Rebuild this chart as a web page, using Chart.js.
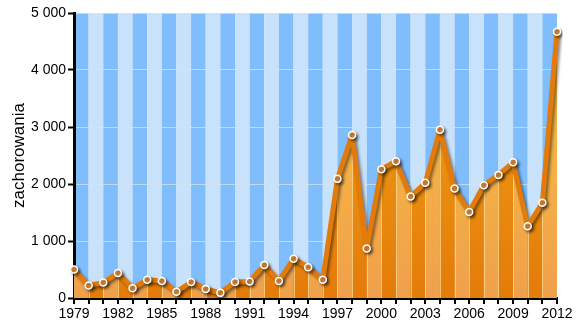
<!DOCTYPE html>
<html>
<head>
<meta charset="utf-8">
<script src="https://cdn.jsdelivr.net/npm/chart.js@4/dist/chart.umd.min.js"></script>
<style>
  body { margin: 0; background: #fff; }
</style>
</head>
<body>
<canvas id="chart" width="581" height="332"></canvas>
<script>
// lata i liczba zachorowań
const years = ['1979', '1980', '1981', '1982', '1983', '1984', '1985', '1986', '1987', '1988',
    '1989', '1990', '1991', '1992', '1993', '1994', '1995', '1996', '1997', '1998',
    '1999', '2000', '2001', '2002', '2003', '2004', '2005', '2006', '2007', '2008',
    '2009', '2010', '2011', '2012']
const cases = [500, 220, 270, 440, 170, 320, 300, 110, 280, 160,
    90, 280, 290, 580, 300, 690, 540, 320, 2090, 2860,
    870, 2260, 2400, 1780, 2020, 2950, 1920, 1510, 1980, 2160,
    2380, 1260, 1670, 4670]
const yMin = 0
const yMax = 5000
const yStep = 1000

function formatNumber(v) {
    return String(v).replace(/\B(?=(\d{3})+(?!\d))/g, ' ')
}

// pasy w tle i w polu pod linią
const stripes = {
    id: 'stripes',
    beforeDraw(chart) {
        const ctx = chart.ctx
        const area = chart.chartArea
        const x = chart.scales.x
        ctx.save()
        for (let i = 0; i < years.length - 1; i++) {
            const x0 = x.getPixelForValue(i)
            const x1 = x.getPixelForValue(i + 1)
            ctx.fillStyle = i % 2 === 0 ? '#80bdfc' : '#c8e2fc'
            ctx.fillRect(x0, area.top, x1 - x0, area.bottom - area.top)
        }
        ctx.restore()
    },
    beforeDatasetDraw(chart, args) {
        const ctx = chart.ctx
        const area = chart.chartArea
        const x = chart.scales.x
        const y = chart.scales.y
        const pts = args.meta.data
        const base = y.getPixelForValue(0)

        ctx.save()
        ctx.beginPath()
        ctx.moveTo(pts[0].x, base)
        pts.forEach(p => ctx.lineTo(p.x, p.y))
        ctx.lineTo(pts[pts.length - 1].x, base)
        ctx.closePath()
        ctx.clip()

        const grad = ctx.createLinearGradient(0, area.top, 0, area.bottom)
        grad.addColorStop(0, '#f9c23e')
        grad.addColorStop(1, '#f0a04c')
        ctx.fillStyle = grad
        for (let i = 0; i < years.length - 1; i += 2) {
            const x0 = x.getPixelForValue(i)
            const x1 = x.getPixelForValue(i + 1)
            ctx.fillRect(x0, area.top, x1 - x0, area.bottom - area.top)
        }
        ctx.strokeStyle = 'rgba(255, 225, 160, 0.7)'
        ctx.lineWidth = 1
        for (let i = 1; i < years.length - 1; i++) {
            const px = Math.round(x.getPixelForValue(i)) + 0.5
            ctx.beginPath()
            ctx.moveTo(px, area.top)
            ctx.lineTo(px, area.bottom)
            ctx.stroke()
        }
        ctx.restore()

        ctx.save()
        ctx.shadowColor = 'rgba(0, 0, 0, 0.45)'
        ctx.shadowBlur = 3
        ctx.shadowOffsetX = 2
        ctx.shadowOffsetY = 2
    },
    afterDatasetDraw(chart) {
        chart.ctx.restore()
    }
}

const data = {
    labels: years,
    datasets: [{
        label: 'zachorowania',
        data: cases,
        borderColor: '#e27b0c',
        borderWidth: 5,
        borderJoinStyle: 'round',
        borderCapStyle: 'round',
        tension: 0,
        fill: 'origin',
        backgroundColor: function (context) {
            const area = context.chart.chartArea
            if (!area) return '#eb9414'
            const g = context.chart.ctx.createLinearGradient(0, area.top, 0, area.bottom)
            g.addColorStop(0, '#f2a616')
            g.addColorStop(1, '#e47b0a')
            return g
        },
        pointRadius: 3.5,
        pointBackgroundColor: '#e3903c',
        pointBorderColor: '#ffffff',
        pointBorderWidth: 1.5,
    }]
}

const config = {
    type: 'line',
    data,
    options: {
        responsive: false,
        animation: false,
        layout: {
            padding: { top: 13, right: 24, left: 0, bottom: 0 }
        },
        plugins: {
            legend: { display: false },
            tooltip: { enabled: false }
        },
        scales: {
            x: {
                offset: false,
                afterFit: function (scale) { scale.height = 34 },
                grid: {
                    drawOnChartArea: false,
                    color: '#000',
                    tickLength: 6,
                    lineWidth: 2
                },
                border: { color: '#000', width: 3 },
                ticks: {
                    autoSkip: false,
                    maxRotation: 0,
                    padding: 2,
                    color: '#000',
                    font: { family: 'Liberation Sans', size: 14 },
                    callback: function (value, index) {
                        return index % 3 === 0 ? years[index] : ''
                    }
                }
            },
            y: {
                min: yMin,
                max: yMax,
                afterFit: function (scale) { scale.width = 74 },
                grid: {
                    color: 'rgba(215, 225, 235, 0.75)',
                    lineWidth: 1,
                    tickColor: '#000',
                    tickLength: 6,
                    tickWidth: 2
                },
                border: { color: '#000', width: 3 },
                ticks: {
                    stepSize: yStep,
                    padding: 2,
                    color: '#000',
                    font: { family: 'Liberation Sans', size: 14 },
                    callback: function (value) { return formatNumber(value) }
                },
                title: {
                    display: true,
                    text: 'zachorowania',
                    color: '#000',
                    font: { family: 'Liberation Sans', size: 17 },
                    padding: { top: 9, bottom: 0 }
                }
            }
        }
    },
    plugins: [stripes]
}

const myChart = new Chart(document.getElementById('chart'), config)
</script>
</body>
</html>
